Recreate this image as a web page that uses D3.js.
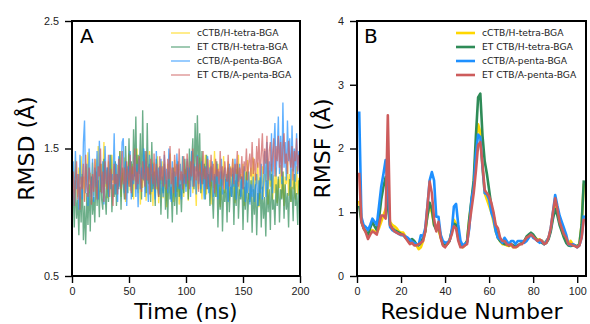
<!DOCTYPE html>
<html>
<head>
<meta charset="utf-8">
<script src="https://cdn.jsdelivr.net/npm/d3@7"></script>
<style>
  body { margin: 0; background: #fff; }
  svg { display: block; font-family: "DejaVu Sans", sans-serif; }
</style>
</head>
<body>
<svg id="svg" width="590" height="324"></svg>
<script>
// series names + colours (same order in both panels)
const seriesNames = ['cCTB/H-tetra-BGA', 'ET CTB/H-tetra-BGA', 'cCTB/A-penta-BGA', 'ET CTB/A-penta-BGA'];
const seriesColors = ['#ffd700', '#2e8b57', '#1e90ff', '#cd5c5c'];

// panel A: RMSD vs time, one frame per ns (0..200)
const timeNs = d3.range(0, 201, 1);
const rmsdYellow = [
  1.20,1.32,1.15,1.41,1.26,1.12,1.35,1.22,1.44,1.18,1.28,1.09,1.36,1.24,1.47,1.15,1.31,1.21,1.39,1.13,
  1.27,1.42,1.19,1.52,1.30,1.16,1.38,1.25,1.55,1.20,1.33,1.11,1.40,1.26,1.18,1.45,1.23,1.36,1.14,1.29,
  1.37,1.21,1.48,1.12,1.31,1.25,1.43,1.08,1.34,1.22,1.46,1.17,1.29,1.38,1.10,1.35,1.24,1.50,1.15,1.30,
  1.06,1.33,1.19,1.42,1.27,1.09,1.36,1.23,1.48,1.14,1.30,1.05,1.39,1.25,1.18,1.44,1.07,1.32,1.22,1.40,
  1.11,1.35,1.26,1.04,1.38,1.20,1.46,1.13,1.31,1.08,1.41,1.24,1.16,1.37,1.06,1.30,1.21,1.44,1.12,1.34,
  1.25,1.40,1.09,1.33,1.20,1.47,1.15,1.36,1.26,1.05,1.39,1.18,1.43,1.23,1.10,1.34,1.28,1.45,1.14,1.31,
  1.22,1.41,1.06,1.35,1.19,1.48,1.25,1.12,1.38,1.27,1.04,1.33,1.21,1.44,1.15,1.30,1.24,1.40,1.09,1.36,
  1.18,1.42,1.26,1.07,1.34,1.22,1.45,1.13,1.30,1.19,1.38,1.05,1.32,1.25,1.41,1.10,1.28,1.35,1.16,1.43,
  1.08,1.31,1.22,1.39,1.04,1.27,1.18,1.36,1.12,1.30,1.24,1.42,1.06,1.33,1.20,1.38,1.10,1.29,1.15,1.35,
  1.07,1.26,1.19,1.37,1.11,1.32,1.05,1.28,1.22,1.40,1.13,1.30,1.08,1.34,1.18,1.25,1.10,1.36,1.14,1.27,
  1.20];
const rmsdGreen = [
  1.02,1.18,0.88,1.25,0.95,1.10,0.82,1.20,0.92,1.30,0.78,1.05,0.75,1.15,0.90,1.22,0.85,1.28,0.98,1.12,
  0.92,1.32,1.05,1.25,0.96,1.38,1.10,1.02,1.42,1.15,0.98,1.35,1.08,1.28,1.45,1.00,1.22,1.12,1.40,1.05,
  1.30,1.18,1.48,1.02,1.35,1.22,1.10,1.52,1.25,1.15,1.58,1.20,1.40,1.12,1.65,1.28,1.75,1.18,1.45,1.30,
  1.62,1.10,1.80,1.25,1.48,1.15,1.70,1.22,1.38,1.08,1.55,1.18,1.32,1.05,1.42,1.20,1.12,1.36,0.98,1.28,
  1.15,1.38,1.02,1.25,0.95,1.32,1.10,1.20,0.92,1.35,1.05,1.28,0.98,1.40,1.12,1.22,1.00,1.30,1.15,1.42,
  1.20,1.35,1.10,1.50,1.25,1.40,1.58,1.18,1.70,1.32,1.76,1.28,1.62,1.15,1.48,1.22,1.38,1.10,1.45,1.18,
  1.30,1.05,1.36,1.15,0.95,1.28,1.12,1.40,0.88,1.22,1.02,1.32,0.85,1.18,1.08,1.26,0.92,1.35,1.00,1.20,
  1.12,1.30,0.90,1.25,1.05,1.38,0.95,1.18,1.10,1.28,0.86,1.20,1.02,1.32,0.92,1.15,1.08,1.25,0.84,1.18,
  0.98,1.22,0.82,1.15,1.05,1.28,0.88,1.20,0.95,1.12,0.81,1.25,1.00,1.18,0.86,1.30,1.02,1.10,0.90,1.22,
  1.05,1.28,0.92,1.18,1.10,1.32,0.95,1.22,1.02,1.15,0.88,1.26,1.08,1.20,0.93,1.30,1.05,1.15,0.90,1.25,
  1.05];
const rmsdBlue = [
  1.12,1.40,1.05,1.48,1.18,1.30,1.02,1.45,1.22,1.10,1.55,1.72,1.15,1.38,1.05,1.50,1.25,1.12,1.42,1.08,
  1.35,1.20,1.48,1.10,1.56,1.28,1.15,1.40,1.06,1.52,1.22,1.35,1.12,1.45,1.18,1.30,1.25,1.62,1.14,1.38,
  1.08,1.44,1.20,1.32,1.55,1.58,1.15,1.40,1.05,1.36,1.25,1.48,1.10,1.30,1.22,1.45,1.12,1.38,1.04,1.42,
  1.18,1.35,1.26,1.50,1.12,1.40,1.22,1.08,1.45,1.30,1.16,1.38,1.24,1.10,1.48,1.20,1.35,1.14,1.42,1.28,
  1.12,1.45,1.22,1.34,1.15,1.50,1.25,1.08,1.40,1.20,1.32,1.12,1.46,1.26,1.18,1.38,1.10,1.44,1.22,1.30,
  1.16,1.42,1.25,1.35,1.12,1.48,1.20,1.38,1.28,1.14,1.45,1.22,1.32,1.18,1.40,1.25,1.10,1.36,1.20,1.44,
  1.15,1.35,1.24,1.40,1.12,1.30,1.22,1.38,1.10,1.32,1.20,1.42,1.14,1.28,1.35,1.18,1.30,1.08,1.38,1.22,
  1.12,1.35,1.20,1.42,1.10,1.30,1.24,1.38,1.12,1.28,1.18,1.36,1.08,1.25,1.15,1.32,1.06,1.22,1.12,1.28,
  1.08,1.20,1.30,1.05,1.25,1.15,1.38,1.10,1.22,1.48,1.12,1.55,1.18,1.40,1.25,1.62,1.15,1.50,1.70,1.28,
  1.45,1.75,1.30,1.60,1.22,1.86,1.35,1.55,1.25,1.72,1.40,1.58,1.20,1.68,1.32,1.50,1.24,1.62,1.30,1.48,
  1.35];
const rmsdRed = [
  1.15,1.32,1.05,1.25,1.40,1.10,1.30,1.02,1.28,1.18,1.38,1.08,1.45,1.20,1.12,1.35,1.25,1.06,1.30,1.16,
  1.42,1.22,1.10,1.36,1.28,1.50,1.15,1.32,1.08,1.40,1.25,1.18,1.45,1.12,1.34,1.26,1.05,1.38,1.22,1.30,
  1.14,1.42,1.28,1.18,1.48,1.22,1.35,1.10,1.40,1.30,1.20,1.45,1.15,1.36,1.25,1.50,1.18,1.32,1.22,1.44,
  1.28,1.16,1.40,1.30,1.20,1.48,1.25,1.35,1.14,1.42,1.32,1.22,1.46,1.18,1.38,1.28,1.12,1.44,1.25,1.36,
  1.20,1.48,1.30,1.18,1.42,1.26,1.52,1.22,1.35,1.15,1.45,1.28,1.38,1.20,1.50,1.25,1.32,1.18,1.44,1.30,
  1.22,1.46,1.35,1.18,1.40,1.28,1.50,1.20,1.36,1.25,1.44,1.16,1.38,1.30,1.22,1.48,1.26,1.35,1.18,1.42,
  1.30,1.20,1.45,1.25,1.38,1.15,1.42,1.28,1.34,1.22,1.48,1.26,1.36,1.18,1.40,1.30,1.24,1.45,1.20,1.35,
  1.28,1.42,1.22,1.38,1.30,1.48,1.20,1.35,1.26,1.44,1.18,1.40,1.32,1.50,1.25,1.38,1.46,1.28,1.55,1.30,
  1.42,1.25,1.52,1.35,1.58,1.28,1.45,1.62,1.30,1.50,1.38,1.60,1.25,1.48,1.55,1.32,1.46,1.58,1.28,1.52,
  1.40,1.60,1.35,1.55,1.28,1.50,1.62,1.38,1.46,1.30,1.56,1.42,1.35,1.52,1.25,1.48,1.40,1.58,1.32,1.45,
  1.38];

// panel B: RMSF per residue (1..103)
const residues = d3.range(1, 104);
const rmsfYellow = [
  1.18,0.90,0.75,0.70,0.62,0.70,0.72,0.70,0.68,0.75,
  0.85,0.95,1.05,1.15,0.85,0.80,0.78,0.75,0.70,0.68,
  0.68,0.62,0.58,0.55,0.52,0.50,0.48,0.42,0.45,0.55,
  0.70,0.95,1.10,1.00,0.80,0.75,0.72,0.60,0.50,0.47,
  0.50,0.55,0.70,0.88,0.82,0.60,0.47,0.45,0.48,0.55,
  0.90,1.15,1.45,2.00,2.38,2.25,1.70,1.30,1.20,1.10,
  1.00,0.85,0.70,0.60,0.55,0.50,0.50,0.48,0.47,0.48,
  0.45,0.45,0.47,0.50,0.52,0.55,0.60,0.63,0.65,0.63,
  0.60,0.57,0.57,0.55,0.52,0.55,0.60,0.72,0.95,1.15,
  1.00,0.85,0.72,0.62,0.55,0.50,0.55,0.50,0.48,0.47,
  0.50,0.80,1.45];
const rmsfGreen = [
  1.10,0.85,0.75,0.70,0.65,0.75,0.85,0.78,0.72,0.90,
  1.20,1.40,1.55,1.10,0.80,0.75,0.72,0.70,0.68,0.66,
  0.64,0.60,0.58,0.55,0.58,0.55,0.50,0.48,0.52,0.60,
  0.70,0.95,1.15,1.05,0.80,0.72,0.80,0.62,0.50,0.48,
  0.50,0.55,0.70,0.82,0.80,0.60,0.48,0.47,0.50,0.55,
  0.90,1.20,1.50,2.20,2.80,2.86,2.20,1.80,1.60,1.35,
  1.10,0.95,0.75,0.60,0.55,0.52,0.50,0.50,0.48,0.50,
  0.48,0.46,0.48,0.50,0.52,0.55,0.62,0.65,0.68,0.65,
  0.60,0.55,0.55,0.52,0.50,0.52,0.58,0.70,0.90,1.05,
  0.95,0.80,0.70,0.60,0.52,0.48,0.47,0.48,0.48,0.46,
  0.50,0.80,1.50];
const rmsfBlue = [
  2.58,0.93,0.80,0.77,0.72,0.80,0.90,0.85,0.80,1.10,
  1.40,1.60,1.82,1.40,0.77,0.72,0.70,0.68,0.66,0.64,
  0.64,0.62,0.60,0.57,0.54,0.52,0.50,0.49,0.64,0.62,
  0.75,1.10,1.50,1.63,1.50,0.93,0.93,0.65,0.55,0.52,
  0.53,0.55,0.70,1.09,1.13,0.80,0.55,0.48,0.50,0.53,
  0.75,1.20,1.38,1.90,2.22,2.18,1.70,1.30,1.28,1.20,
  1.00,0.90,0.70,0.60,0.58,0.52,0.60,0.55,0.50,0.55,
  0.55,0.50,0.55,0.55,0.55,0.52,0.55,0.60,0.65,0.60,
  0.58,0.55,0.52,0.55,0.50,0.55,0.60,0.75,1.00,1.27,
  1.10,0.95,0.85,0.75,0.65,0.50,0.48,0.50,0.48,0.45,
  0.48,0.60,0.95];
const rmsfRed = [
  1.62,0.85,0.75,0.68,0.58,0.65,0.70,0.68,0.65,0.80,
  0.95,0.95,0.90,2.52,0.80,0.75,0.70,0.68,0.66,0.65,
  0.65,0.60,0.55,0.50,0.52,0.48,0.48,0.50,0.52,0.55,
  0.70,1.10,1.48,1.30,0.90,0.70,0.85,0.60,0.48,0.45,
  0.50,0.55,0.65,0.78,0.75,0.55,0.45,0.45,0.48,0.50,
  0.80,1.05,1.30,1.65,2.05,2.10,1.75,1.35,1.30,1.25,
  1.15,1.00,0.80,0.75,0.60,0.55,0.55,0.50,0.48,0.50,
  0.45,0.45,0.47,0.50,0.50,0.55,0.60,0.62,0.65,0.62,
  0.58,0.55,0.57,0.55,0.50,0.52,0.60,0.75,1.00,1.22,
  1.05,0.85,0.75,0.65,0.60,0.50,0.50,0.48,0.47,0.45,
  0.48,0.60,0.90];

const rmsdTicks = [0.5, 1.5, 2.5];
const timeTicks = [0, 50, 100, 150, 200];
const rmsfTicks = [0, 1, 2, 3, 4];
const residueTicks = [0, 20, 40, 60, 80, 100];

const svg = d3.select('#svg');

function drawPanel(opts) {
  const {left, right, top, bottom, xScale, yScale, xTicks, yTicks, yFmt, id} = opts;
  const g = svg.append('g');

  g.append('clipPath').attr('id', id)
    .append('rect')
    .attr('x', left).attr('y', top)
    .attr('width', right - left).attr('height', bottom - top);

  const lines = g.append('g').attr('clip-path', `url(#${id})`);

  const xAxis = g.append('g')
    .attr('transform', `translate(0,${bottom})`)
    .call(d3.axisBottom(xScale).tickValues(xTicks).tickSize(7).tickPadding(4).tickFormat(d3.format('d')));
  const yAxis = g.append('g')
    .attr('transform', `translate(${left},0)`)
    .call(d3.axisLeft(yScale).tickValues(yTicks).tickSize(7).tickPadding(6).tickFormat(yFmt));

  [xAxis, yAxis].forEach(ax => {
    ax.select('.domain').remove();
    ax.selectAll('line').attr('stroke', '#000').attr('stroke-width', 1.4);
    ax.selectAll('text').attr('fill', '#222').style('font-size', '10.8px');
  });

  return {g, lines};
}

function frame(g, left, right, top, bottom) {
  g.append('rect')
    .attr('x', left).attr('y', top)
    .attr('width', right - left).attr('height', bottom - top)
    .attr('fill', 'none').attr('stroke', '#000').attr('stroke-width', 2);
}

function legend(g, x0, y0, sw, op) {
  seriesNames.forEach((name, i) => {
    const y = y0 + i * 14;
    g.append('line')
      .attr('x1', x0).attr('x2', x0 + 19).attr('y1', y).attr('y2', y)
      .attr('stroke', seriesColors[i]).attr('stroke-width', sw).attr('stroke-opacity', op);
    g.append('text')
      .attr('x', x0 + 26).attr('y', y).attr('dy', '0.35em')
      .style('font-size', '9.2px').attr('fill', '#222')
      .text(name);
  });
}

// ---- panel A ----
const aL = 72, aR = 300, aT = 21, aB = 276;
const xA = d3.scaleLinear().domain([0, 200]).range([aL, aR]);
const yA = d3.scaleLinear().domain([0.5, 2.5]).range([aB, aT]);
const pA = drawPanel({left: aL, right: aR, top: aT, bottom: aB, xScale: xA, yScale: yA,
  xTicks: timeTicks, yTicks: rmsdTicks, yFmt: d3.format('.1f'), id: 'clipA'});

const rmsdSeries = [rmsdYellow, rmsdGreen, rmsdBlue, rmsdRed];
const lineA = d3.line().x((d, i) => xA(timeNs[i])).y(d => yA(d));
rmsdSeries.forEach((s, i) => {
  pA.lines.append('path')
    .datum(s)
    .attr('d', lineA)
    .attr('fill', 'none')
    .attr('stroke', seriesColors[i])
    .attr('stroke-width', 1.35)
    .attr('stroke-opacity', 0.7);
});
frame(pA.g, aL, aR, aT, aB);
legend(pA.g, 171, 33, 1.3, 0.7);
pA.g.append('text').attr('x', 80).attr('y', 43).style('font-size', '20px').text('A');
pA.g.append('text')
  .attr('x', (aL + aR) / 2).attr('y', 319)
  .attr('text-anchor', 'middle').style('font-size', '22px')
  .text('Time (ns)');
pA.g.append('text')
  .attr('transform', `translate(34,${(aT + aB) / 2}) rotate(-90)`)
  .attr('text-anchor', 'middle').style('font-size', '22px')
  .text('RMSD (Å)');

// ---- panel B ----
const bL = 357, bR = 586, bT = 21, bB = 276;
const xB = d3.scaleLinear().domain([0, 104]).range([bL, bR]);
const yB = d3.scaleLinear().domain([0, 4]).range([bB, bT]);
const pB = drawPanel({left: bL, right: bR, top: bT, bottom: bB, xScale: xB, yScale: yB,
  xTicks: residueTicks, yTicks: rmsfTicks, yFmt: d3.format('d'), id: 'clipB'});

const rmsfSeries = [rmsfYellow, rmsfGreen, rmsfBlue, rmsfRed];
const lineB = d3.line().x((d, i) => xB(residues[i])).y(d => yB(d));
rmsfSeries.forEach((s, i) => {
  pB.lines.append('path')
    .datum(s)
    .attr('d', lineB)
    .attr('fill', 'none')
    .attr('stroke', seriesColors[i])
    .attr('stroke-width', 2.6)
    .attr('stroke-linejoin', 'round');
});
frame(pB.g, bL, bR, bT, bB);
legend(pB.g, 456, 33, 2.6, 1);
pB.g.append('text').attr('x', 364).attr('y', 43).style('font-size', '20px').text('B');
pB.g.append('text')
  .attr('x', (bL + bR) / 2).attr('y', 319)
  .attr('text-anchor', 'middle').style('font-size', '22px')
  .text('Residue Number');
pB.g.append('text')
  .attr('transform', `translate(330,${(bT + bB) / 2}) rotate(-90)`)
  .attr('text-anchor', 'middle').style('font-size', '22px')
  .text('RMSF (Å)');
</script>
</body>
</html>
